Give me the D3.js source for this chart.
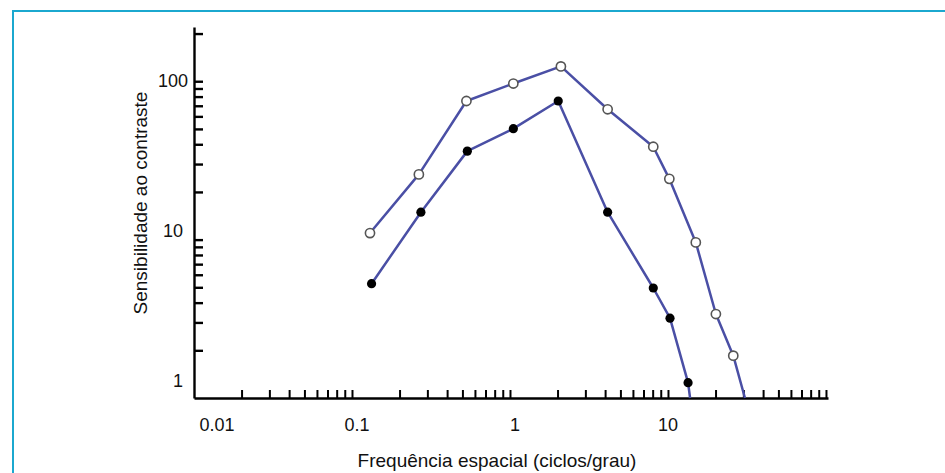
<!DOCTYPE html>
<meta charset="UTF-8">
<style>
  body { margin: 0; background: #fff; }
  svg text { font-family: "Liberation Sans", Arial, sans-serif; fill: #111; }
  .axis path, .axis line { stroke: #000; }
  .serie { fill: none; stroke: #4a4fa5; stroke-width: 2.5px; stroke-linejoin: round; }
</style>
<body>
<svg id="chart" width="945" height="473"></svg>

<script src="https://d3js.org/d3.v7.min.js"></script>
<script>

// Frequencia espacial (ciclos/grau) e sensibilidade ao contraste
var abertoX = [0.13, 0.265, 0.53, 1.05, 2.1, 4.15, 8.07, 10.2, 15, 20.1, 25.9];
var abertoY = [11.0, 25.8, 75, 96.7, 124, 66.5, 38.6, 24.2, 9.6, 3.39, 1.85];
var abertoFim = [30.7, 1];   // a linha continua ate o eixo

var cheioX = [0.133, 0.273, 0.537, 1.05, 2.02, 4.15, 8.07, 10.3, 13.4];
var cheioY = [5.27, 14.9, 36.2, 50.2, 75, 14.9, 4.95, 3.19, 1.25];
var cheioFim = [13.8, 1];

var xTicks = [0.02,0.03,0.04,0.05,0.06,0.07,0.08,0.09,0.1,
              0.2,0.3,0.4,0.5,0.6,0.7,0.8,0.9,1,
              2,3,4,5,6,7,8,9,10,
              20,30,40,50,60,70,80,90,100];
var yTicks = [2,3,4,5,6,7,8,9,10,20,30,40,50,60,70,80,90,100,200];
var xLabels = [0.01, 0.1, 1, 10];
var yLabels = [1, 10, 100];

var svg = d3.select("#chart");

// moldura azul (topo e esquerda)
svg.append("line").attr("x1", 13).attr("y1", 11).attr("x2", 945).attr("y2", 11)
  .attr("stroke", "#1ba8cf").attr("stroke-width", 2);
svg.append("line").attr("x1", 13).attr("y1", 10).attr("x2", 13).attr("y2", 473)
  .attr("stroke", "#1ba8cf").attr("stroke-width", 2);

var x = d3.scaleLog().domain([0.01, 103]).range([194, 828]);
var y = d3.scaleLog().domain([1, 220]).range([398, 27]);

// eixo X
var xAxis = svg.append("g")
    .attr("class", "axis")
    .attr("transform", "translate(0," + y(1) + ")")
    .call(d3.axisTop(x).tickValues(xTicks).tickSize(8).tickSizeOuter(0).tickFormat(""));
xAxis.select(".domain").attr("stroke-width", 2.4);
xAxis.selectAll(".tick line").attr("stroke-width", 2);

// eixo Y
var yAxis = svg.append("g")
    .attr("class", "axis")
    .attr("transform", "translate(" + x(0.01) + ",0)")
    .call(d3.axisRight(y).tickValues(yTicks).tickSize(9).tickSizeOuter(0).tickFormat(""));
yAxis.select(".domain").attr("stroke-width", 2.4);
yAxis.selectAll(".tick line").attr("stroke-width", 2.4);

// rotulos dos eixos (deslocados como no original)
function xShift(v) { return v === 0.01 ? 23 : v === 10 ? 0 : 5; }
svg.selectAll(".xlab")
  .data(xLabels)
  .enter().append("text")
    .attr("class", "xlab")
    .attr("x", function(d) { return x(d) + xShift(d); })
    .attr("y", 431)
    .attr("text-anchor", "middle")
    .style("font-size", "18px")
    .text(function(d) { return d; });

function yShift(v) { return v === 100 ? 6 : v === 10 ? -3 : -11; }
svg.selectAll(".ylab")
  .data(yLabels)
  .enter().append("text")
    .attr("class", "ylab")
    .attr("x", function(d) { return d === 100 ? 188 : 183; })
    .attr("y", function(d) { return y(d) + yShift(d); })
    .attr("text-anchor", "end")
    .style("font-size", "18px")
    .text(function(d) { return d; });

svg.append("text")
    .attr("x", 497)
    .attr("y", 467)
    .attr("text-anchor", "middle")
    .style("font-size", "19px")
    .text("Frequência espacial (ciclos/grau)");

svg.append("text")
    .attr("transform", "translate(147,203) rotate(-90)")
    .attr("text-anchor", "middle")
    .style("font-size", "19px")
    .text("Sensibilidade ao contraste");

// series
var line = d3.line()
    .x(function(d) { return x(d[0]); })
    .y(function(d) { return y(d[1]); });

var aberto = abertoX.map(function(v, i) { return [v, abertoY[i]]; });
var cheio = cheioX.map(function(v, i) { return [v, cheioY[i]]; });

svg.append("path").attr("class", "serie").attr("d", line(aberto.concat([abertoFim])));
svg.append("path").attr("class", "serie").attr("d", line(cheio.concat([cheioFim])));

svg.selectAll(".ab")
  .data(aberto)
  .enter().append("circle")
    .attr("class", "ab")
    .attr("cx", function(d) { return x(d[0]); })
    .attr("cy", function(d) { return y(d[1]); })
    .attr("r", 4.6)
    .attr("fill", "#fff")
    .attr("stroke", "#555")
    .attr("stroke-width", 1.6);

svg.selectAll(".ch")
  .data(cheio)
  .enter().append("circle")
    .attr("class", "ch")
    .attr("cx", function(d) { return x(d[0]); })
    .attr("cy", function(d) { return y(d[1]); })
    .attr("r", 4.6)
    .attr("fill", "#000");

</script>
</body>
